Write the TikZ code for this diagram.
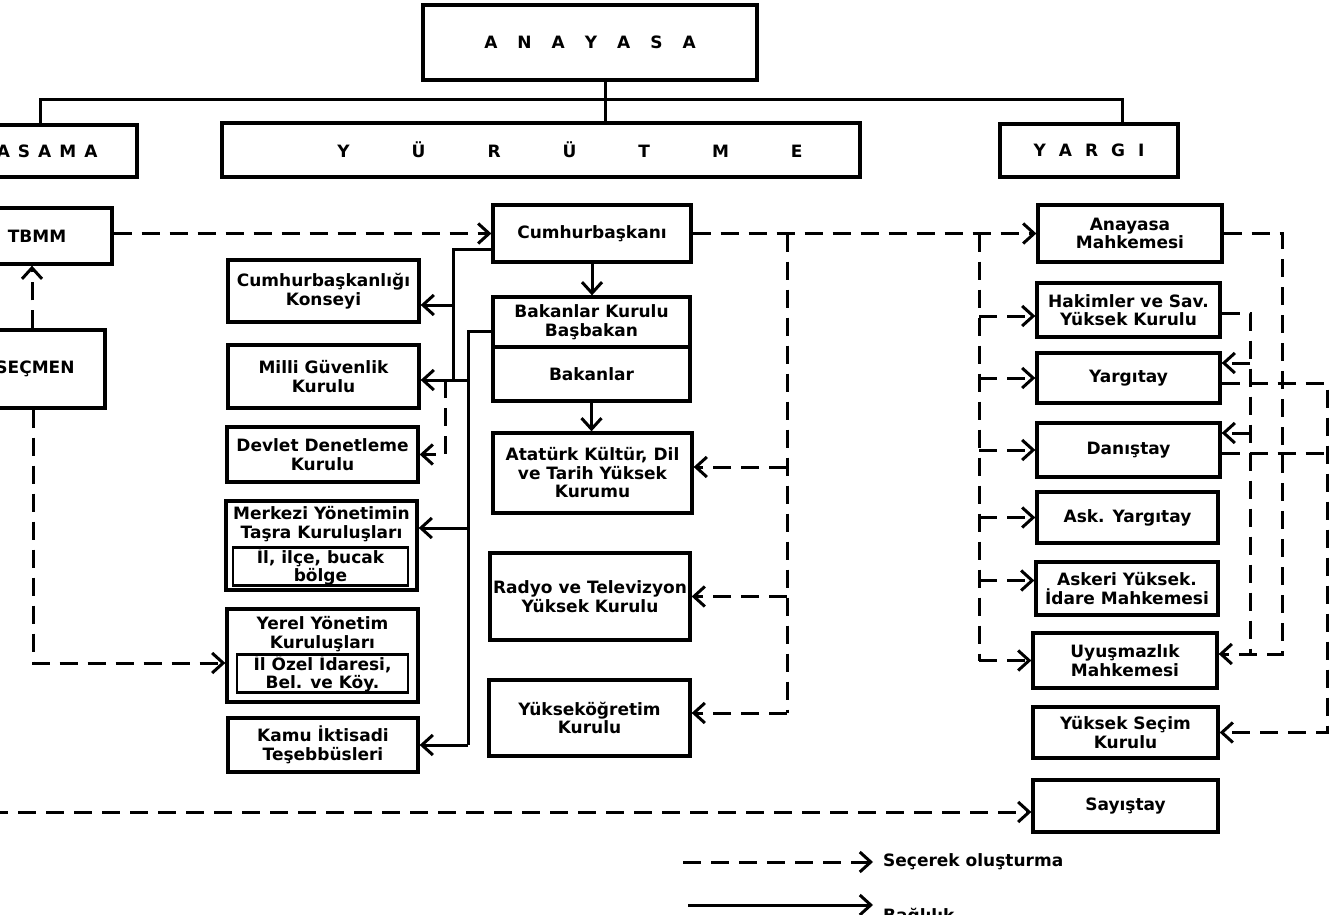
\documentclass[tikz,border=0pt]{standalone}
\usepackage{fontspec}
\setmainfont{DejaVu Sans}
\usetikzlibrary{arrows.meta,calc}
\begin{document}
\begin{tikzpicture}[x=1pt,y=-1pt,
  every node/.style={inner sep=0pt},
  box/.style={draw,line width=3.3pt,align=center,font=\bfseries\fontsize{17}{18.5}\selectfont},
  inbox/.style={draw,line width=2.8pt,align=center,font=\bfseries\fontsize{17}{18.5}\selectfont},
  txt/.style={align=center,font=\bfseries\fontsize{17}{18.5}\selectfont},
  head/.style={draw,line width=3.3pt,font=\bfseries\fontsize{17}{18}\selectfont},
  sol/.style={line width=3pt},
  dsh/.style={line width=3pt,dash pattern=on 18pt off 10pt},
  arr/.style={-{Straight Barb[length=11pt,width=20pt]}},
]
\path[use as bounding box] (0,0) rectangle (1331,915);
\fill[white] (0,0) rectangle (1331,915);
\clip (0,0) rectangle (1331,915);

% top level
\node[head,minimum width=334,minimum height=75] (anayasa) at (590,42.5)
  {A\hskip20pt N\hskip20pt A\hskip20pt Y\hskip20pt A\hskip20pt S\hskip20pt A};
\node[head,minimum width=200,minimum height=52] (yasama) at (37,151)
  {Y\hskip8pt A\hskip8pt S\hskip8pt A\hskip8pt M\hskip8pt A};
\node[head,minimum width=638,minimum height=54] (yurutme) at (541,150)
  {\hspace*{58pt}Y\hskip62pt Ü\hskip62pt R\hskip62pt Ü\hskip62pt T\hskip62pt M\hskip62pt E};
\node[head,minimum width=178,minimum height=53] (yargi) at (1089,150.5)
  {Y\hskip13pt A\hskip13pt R\hskip13pt G\hskip13pt I};

\coordinate (t0) at (605,100);
\coordinate (ldrop) at (40,100);
\coordinate (rdrop) at (1122,100);
\draw[sol] (anayasa.south -| t0) -- (t0 |- yurutme.north);
\draw[sol] (ldrop |- yasama.north) -- (ldrop) -- (rdrop) -- (rdrop |- yargi.north);

% left column
\node[box,minimum width=150,minimum height=56] (tbmm) at (37,236) {TBMM};
\node[box,minimum width=140,minimum height=78] (secmen) at (35,369) {SEÇMEN};

% executive side boxes
\node[box,minimum width=191,minimum height=62] (cbk) at (323.5,291) {Cumhurbaşkanlığı\\Konseyi};
\node[box,minimum width=191,minimum height=63] (mgk) at (323.5,376.5) {Milli Güvenlik\\Kurulu};
\node[box,minimum width=191,minimum height=55] (ddk) at (322.5,454.5) {Devlet Denetleme\\Kurulu};
\node[box,minimum width=191,minimum height=89] (merkezi) at (321.5,545.5) {};
\node[txt] (merkezit) at (321.5,524) {Merkezi Yönetimin\\Taşra Kuruluşları};
\node[inbox,minimum width=175,minimum height=37] (merkezii) at (320.5,566.5) {İl, ilçe, bucak\\bölge};
\node[box,minimum width=191,minimum height=93] (yerel) at (322.5,655.5) {};
\node[txt] (yerelt) at (322.5,634) {Yerel Yönetim\\Kuruluşları};
\node[inbox,minimum width=171,minimum height=37] (yereli) at (322.5,673.5) {İl Özel İdaresi,\\Bel. ve Köy.};
\node[box,minimum width=190,minimum height=54] (kamu) at (323,745) {Kamu İktisadi\\Teşebbüsleri};

% centre column
\node[box,minimum width=198,minimum height=57] (cb) at (592,233.5) {Cumhurbaşkanı};
\node[box,minimum width=197,minimum height=50] (bk) at (591.5,322) {Bakanlar Kurulu\\Başbakan};
\node[box,minimum width=197,minimum height=54] (bak) at (591.5,374) {Bakanlar};
\node[box,minimum width=199,minimum height=80] (ataturk) at (592.5,473) {Atatürk Kültür, Dil\\ve Tarih Yüksek\\Kurumu};
\node[box,minimum width=200,minimum height=87] (rtyk) at (590,596.5) {Radyo ve Televizyon\\Yüksek Kurulu};
\node[box,minimum width=201,minimum height=76] (yok) at (589.5,718) {Yükseköğretim\\Kurulu};

% judiciary column
\node[box,minimum width=184,minimum height=57] (am) at (1130,233.5) {Anayasa\\Mahkemesi};
\node[box,minimum width=183,minimum height=54] (hsyk) at (1128.5,310) {Hakimler ve Sav.\\Yüksek Kurulu};
\node[box,minimum width=183,minimum height=50] (yargitay) at (1128.5,378) {Yargıtay};
\node[box,minimum width=183,minimum height=54] (danistay) at (1128.5,450) {Danıştay};
\node[box,minimum width=181,minimum height=51] (askyargitay) at (1127.5,517.5) {Ask. Yargıtay};
\node[box,minimum width=182,minimum height=53] (aym) at (1127,588.5) {Askeri Yüksek.\\İdare Mahkemesi};
\node[box,minimum width=184,minimum height=55] (uyusmazlik) at (1125,660.5) {Uyuşmazlık\\Mahkemesi};
\node[box,minimum width=185,minimum height=51] (ysk) at (1125.5,732.5) {Yüksek Seçim\\Kurulu};
\node[box,minimum width=185,minimum height=52] (sayistay) at (1125.5,806) {Sayıştay};

% connection points
\coordinate (j1) at (453,249);
\coordinate (j2) at (468,331);
\coordinate (d1) at (445,380);
\coordinate (cbkE) at ([yshift=-14pt]cbk.east);
\coordinate (mgkE) at ([yshift=-3.5pt]mgk.east);
\coordinate (merE) at ([yshift=17.5pt]merkezi.east);
\coordinate (yerW) at ([yshift=-7.5pt]yerel.west);
\coordinate (ataE) at ([yshift=6pt]ataturk.east);
\coordinate (yokE) at ([yshift=5pt]yok.east);
\coordinate (hsykW) at ([yshift=-6pt]hsyk.west);
\coordinate (aymW) at ([yshift=8pt]aym.west);
\coordinate (uyuE) at ([yshift=6.5pt]uyusmazlik.east);
\coordinate (hsykE) at ([yshift=-3pt]hsyk.east);
\coordinate (yarIn) at ([yshift=15pt]yargitay.east);
\coordinate (yarOut) at ([yshift=-5pt]yargitay.east);
\coordinate (danIn) at ([yshift=17pt]danistay.east);
\coordinate (danOut) at ([yshift=-3pt]danistay.east);
\coordinate (sayW) at ([yshift=-6pt]sayistay.west);
\coordinate (s1) at ([xshift=-3pt]secmen.north);
\coordinate (s2) at ([xshift=-2pt]secmen.south);
\coordinate (v1) at (787,233.5);
\coordinate (v2) at (979,233.5);
\coordinate (r1) at (1282,233.5);
\coordinate (r2) at (1250,313);
\coordinate (r3) at (1327,383);
\coordinate (b0) at (-10,812);

% solid (Baglilik)
\draw[sol] (cb.west |- j1) -- (j1) -- (j1 |- mgkE);
\draw[sol,arr] (j1 |- cbkE) -- (cbkE);
\draw[sol,arr] (j2 |- mgkE) -- (mgkE);
\draw[sol] (bk.west |- j2) -- (j2) -- (j2 |- kamu.east);
\draw[sol,arr] (j2 |- merE) -- (merE);
\draw[sol,arr] (j2 |- kamu.east) -- (kamu.east);
\draw[sol,arr] (cb.south) -- (cb.south |- bk.north);
\draw[sol,arr] (bak.south) -- (bak.south |- ataturk.north);
\draw[dsh,arr] (d1) -- (d1 |- ddk.east) -- (ddk.east);

% dashed (Secerek olusturma)
\draw[dsh,arr] (s1) -- (s1 |- tbmm.south);
\draw[dsh,arr] (s2) -- (s2 |- yerW) -- (yerW);
\draw[dsh,arr] (b0) -- (sayW);
\draw[dsh,arr] (tbmm.east |- cb.west) -- (cb.west);
\draw[dsh,arr] (cb.east) -- (am.west);
\draw[dsh] (v1) -- (v1 |- yokE);
\draw[dsh,arr] (v1 |- ataE) -- (ataE);
\draw[dsh,arr] (v1 |- rtyk.east) -- (rtyk.east);
\draw[dsh,arr] (v1 |- yokE) -- (yokE);
\draw[dsh] (v2) -- (v2 |- uyusmazlik.west);
\draw[dsh,arr] (v2 |- hsykW) -- (hsykW);
\draw[dsh,arr] (v2 |- yargitay.west) -- (yargitay.west);
\draw[dsh,arr] (v2 |- danistay.west) -- (danistay.west);
\draw[dsh,arr] (v2 |- askyargitay.west) -- (askyargitay.west);
\draw[dsh,arr] (v2 |- aymW) -- (aymW);
\draw[dsh,arr] (v2 |- uyusmazlik.west) -- (uyusmazlik.west);
\draw[dsh,arr] (am.east) -- (r1) -- (r1 |- uyuE) -- (uyuE);
\draw[dsh] (hsykE) -- (r2) -- (r2 |- uyuE);
\draw[dsh,arr] (r2 |- yarIn) -- (yarIn);
\draw[dsh,arr] (r2 |- danIn) -- (danIn);
\draw[dsh,arr] (yarOut) -- (r3) -- (r3 |- ysk.east) -- (ysk.east);
\draw[dsh] (danOut) -- (danOut -| r3);

% legend
\coordinate (lg1s) at (683,862);
\coordinate (lg2s) at (688,905);
\node[txt,anchor=west] (lg1) at (883,862) {Seçerek oluşturma};
\node[txt,anchor=base west] (lg2) at (883,921) {Bağlılık};
\draw[dsh,arr] (lg1s) -- ([xshift=-10pt]lg1.west);
\draw[sol,arr] (lg2s) -- ([xshift=-10pt]lg2s -| lg2.west);
\end{tikzpicture}
\end{document}
